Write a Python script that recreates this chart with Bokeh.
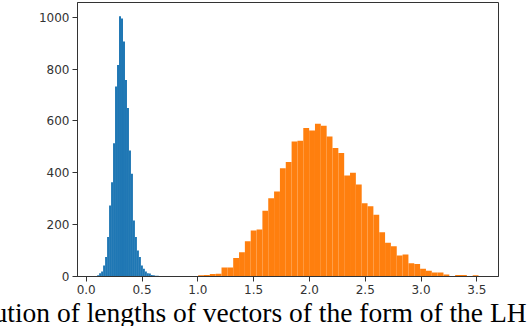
import numpy as np
from bokeh.plotting import figure
from bokeh.models import Range1d, Title, FixedTicker, NumeralTickFormatter
from bokeh.embed import file_html
from bokeh.resources import INLINE

# ---- data ----
blue_range = (0.098, 0.686)
blue_counts = [5, 13, 19, 42, 75, 152, 274, 364, 514, 733, 816, 1004, 995, 907,
               758, 650, 486, 396, 216, 152, 100, 75, 42, 30, 19, 13, 12, 6, 5,
               3, 3, 2, 1]

orange_range = (1.003, 3.515)
orange_counts = [5, 6, 10, 11, 35, 35, 71, 94, 136, 177, 181, 254, 302, 328,
                 418, 442, 521, 524, 573, 563, 589, 582, 540, 496, 476, 390,
                 400, 355, 283, 271, 238, 171, 130, 117, 81, 85, 51, 48, 30,
                 22, 15, 15, 8, 2, 6, 6, 1, 5]

x_ticks = [0.0, 0.5, 1.0, 1.5, 2.0, 2.5, 3.0, 3.5]
y_ticks = [0, 200, 400, 600, 800, 1000]
caption = "ution of lengths of vectors of the form of the LH"

# ---- figure ----
p = figure(width=530, height=326, output_backend="svg", toolbar_location=None,
           x_range=Range1d(-0.078, 3.694), y_range=Range1d(0, 1057),
           min_border_left=77, min_border_right=32, min_border_top=2,
           min_border_bottom=0)

def draw_hist(counts, rng, color):
    edges = np.linspace(rng[0], rng[1], len(counts) + 1)
    p.quad(left=edges[:-1], right=edges[1:], top=counts, bottom=0,
           fill_color=color, line_color=None)

draw_hist(blue_counts, blue_range, "#1f77b4")
draw_hist(orange_counts, orange_range, "#ff7f0e")

p.xgrid.visible = False
p.ygrid.visible = False
p.outline_line_color = "#333333"
p.outline_line_width = 1

for ax in (p.xaxis[0], p.yaxis[0]):
    ax.axis_line_color = "#333333"
    ax.major_tick_line_color = "#333333"
    ax.major_tick_out = 5
    ax.major_tick_in = 0
    ax.minor_tick_line_color = None
    ax.major_label_text_font = "DejaVu Sans"
    ax.major_label_text_font_size = "12px"
    ax.major_label_text_color = "#333333"
    ax.major_label_standoff = 3

p.xaxis.ticker = FixedTicker(ticks=x_ticks)
p.xaxis.formatter = NumeralTickFormatter(format="0.0")
p.yaxis.ticker = FixedTicker(ticks=y_ticks)

p.add_layout(Title(text=caption, align="left", offset=-84, standoff=-3,
                   text_font="Liberation Serif", text_font_size="27.5px",
                   text_font_style="normal", text_color="#000000"), "below")

open("out.html", "w").write(file_html(p, INLINE))
